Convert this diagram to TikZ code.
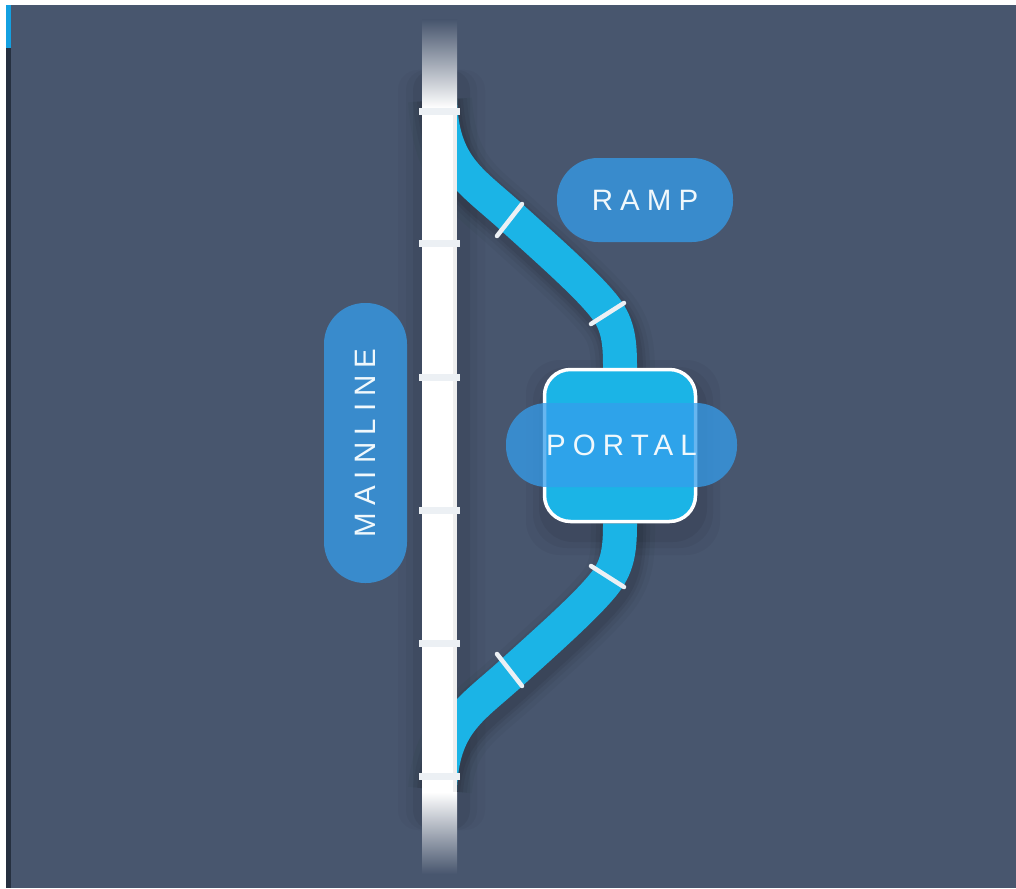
\documentclass[tikz,border=0pt]{standalone}
\usepackage{fontspec}
\setmainfont{Liberation Sans}
\newfontfamily\lblfont[LetterSpace=24]{Liberation Sans}
\definecolor{bgc}{RGB}{72,86,110}
\definecolor{darkstrip}{RGB}{38,48,64}
\definecolor{bluestrip}{RGB}{20,160,225}
\definecolor{tubec}{RGB}{27,180,230}
\definecolor{pillc}{RGB}{53,158,236}
\definecolor{tickc}{RGB}{236,240,244}
\definecolor{txtc}{RGB}{240,248,252}
\begin{document}
\begin{tikzpicture}[x=1pt,y=-1pt,
  pill/.style={rectangle, rounded corners=41pt, fill=pillc, fill opacity=0.75,
    text opacity=1, text=txtc, inner sep=0pt, font=\lblfont\fontsize{29.5}{31}\selectfont},
  tube/.style={draw=tubec, line width=34pt},
  tubetick/.style={draw=tickc, line width=4.5pt, line cap=round},
  mltick/.style={fill=tickc},
  portalbox/.style={rectangle, rounded corners=26pt, fill=tubec, draw=white,
    line width=3.5pt, minimum width=151pt, minimum height=152pt, inner sep=0pt}
]
\useasboundingbox (0,0) rectangle (1016,888);
\fill[white] (0,0) rectangle (1016,888);
\fill[bgc] (6,5) rectangle (1016,888);
\fill[darkstrip] (6,48) rectangle (11,888);
\fill[bluestrip] (6,5) rectangle (11,48);

% anchor points on the mainline
\coordinate (mlTop) at (440,100);
\coordinate (mlBot) at (440,790);

% invisible portal placeholder for tube anchors
\path (620,445.5) node[portalbox, draw=none, fill=none] (portalpos) {};

% shadows
\foreach \w/\o in {64/0.03,54/0.04,46/0.05,40/0.06} {
  \draw[black, opacity=\o, line width=\w pt, shift={(3,8)}]
    (mlTop) .. controls (442,165) and (470,180) .. (508,214)
    .. controls (550,252) and (585,283) .. (603,305)
    .. controls (617,322) and (620,338) .. (620,365) -- (620,525)
    .. controls (620,552) and (617,568) .. (603,585)
    .. controls (585,607) and (550,638) .. (508,676)
    .. controls (470,710) and (442,725) .. (mlBot);
}
\foreach \g/\o in {24/0.025,16/0.035,9/0.05} {
  \fill[black, opacity=\o, rounded corners=20pt] (422-\g,70) rectangle (457+\g+4,830);
}
\foreach \g/\o in {20/0.035,13/0.045,7/0.06} {
  \fill[black, opacity=\o, rounded corners=34pt]
    (543-\g+3,368-\g+12) rectangle (697+\g+3,523+\g+12);
}

% ramp tube: mainline -> portal -> mainline
\draw[tube] (mlTop) .. controls (442,165) and (470,180) .. (508,214)
    .. controls (550,252) and (585,283) .. (603,305)
    .. controls (617,322) and (620,338) .. (620,365) -- (portalpos.north);
\draw[tube] (portalpos.south) -- (620,525)
    .. controls (620,552) and (617,568) .. (603,585)
    .. controls (585,607) and (550,638) .. (508,676)
    .. controls (470,710) and (442,725) .. (mlBot);

% tube ticks
\draw[tubetick] (497,236) -- (522,204);
\draw[tubetick] (591,324) -- (624,303);
\draw[tubetick] (591,566) -- (624,587);
\draw[tubetick] (497,654) -- (522,686);

% mainline bar
\fill[white] (422,108) rectangle (457,792);
\shade[top color=bgc, bottom color=white] (422,20) rectangle (457,108);
\shade[top color=white, bottom color=bgc] (422,792) rectangle (457,874);
\fill[black!12, opacity=0.5] (453,108) rectangle (457,792);
\foreach \yy in {112,243,377,510,643,776} {
  \fill[mltick] (419,\yy-3.5) rectangle (460,\yy+3.5);
}

% portal
\node[portalbox] (portal) at (620,445.5) {};

% labels
\node[pill, minimum width=176pt, minimum height=84pt] (ramp) at (645,200) {RAMP};
\node[pill, minimum width=231pt, minimum height=84pt] (portallbl) at (621.5,445) {PORTAL};
\node[pill, rotate=90, minimum width=280pt, minimum height=83pt] (mainline) at (365.5,443) {MAINLINE};
\end{tikzpicture}
\end{document}
